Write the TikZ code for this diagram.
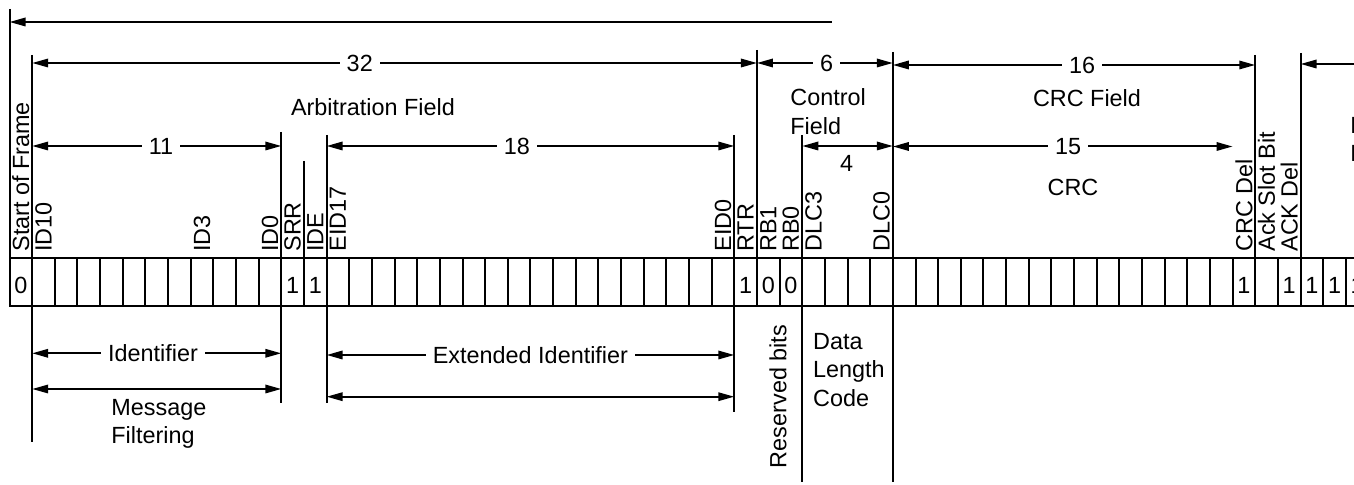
\documentclass[tikz,border=0pt]{standalone}
\usepackage{fontspec}
\setmainfont{Liberation Sans}
\usetikzlibrary{arrows.meta, positioning}
\newcommand{\canfont}{\fontsize{11.7}{14.2}\selectfont}
\tikzset{
  >={Triangle[length=8pt, width=4.2pt]},
  % one bit of the frame
  bitcell/.style={rectangle, draw, line width=1pt, minimum width=11.325pt, minimum height=24pt,
                  inner sep=0pt, outer sep=0pt, anchor=north west},
  bitval/.style={inner sep=0pt},
  bitlbl/.style={rotate=90, anchor=west, inner sep=0pt},
  bnd/.style={line width=1pt},
  dimln/.style={<->, line width=1pt},
  dimlbl/.style={fill=white, inner xsep=3.5pt, inner ysep=1pt},
  txt/.style={align=left, inner sep=0pt}
}

\begin{document}
\begin{tikzpicture}[x=0.5pt, y=-0.5pt, every node/.style={font=\canfont}]
    \useasboundingbox (0,0) rectangle (1354,485);
    \clip (0,0) rectangle (1354,485);

    % bit cells
    \foreach \i in {0,...,59}
      \node[bitcell] (c\i) at ({9.5+22.65*\i},258) {};

    % fixed bit values
    \foreach \i/\val in {0/0, 12/1, 13/1, 32/1, 33/0, 34/0, 54/1, 56/1, 57/1, 58/1, 59/1}
      \node[bitval] at ([yshift=-1.5pt]c\i.center) {\val};

    % bit names
    \foreach \i/\lbl in {0/Start of Frame, 1/ID10, 8/ID3, 11/ID0, 12/SRR, 13/IDE, 14/EID17,
                         31/EID0, 32/RTR, 33/RB1, 34/RB0, 35/DLC3, 38/DLC0,
                         54/CRC Del, 55/Ack Slot Bit, 56/ACK Del}
      \node[bitlbl] at ([yshift=3pt]c\i.north) {\lbl};

    % field boundaries
    \foreach \n/\ya/\yb in {0/9/306, 1/55/442, 12/132/403, 13/161/306, 14/135/403, 32/135/412,
                            33/50/306, 35/135/482, 39/52/482, 55/55/306, 57/53/306}
      \draw[bnd] (c\n.north west |- 0,\ya) -- (c\n.north west |- 0,\yb);

    % whole frame
    \coordinate (topend) at (832,22);
    \draw[bnd, <-] (c0.north west |- topend) -- (topend);

    % arbitration field
    \draw[dimln] (c1.north west |- 0,63) -- node[dimlbl, pos=0.452] {32} (c33.north west |- 0,63);
    \node (arb) at (373,107) {Arbitration Field};
    \draw[dimln] (c1.north west |- 0,146) -- node[dimlbl, pos=0.517] {11} (c12.north west |- 0,146);
    \draw[dimln] (c14.north west |- 0,146) -- node[dimlbl, pos=0.467] {18} (c32.north west |- 0,146);

    % control field
    \draw[dimln] (c33.north west |- 0,63) -- node[dimlbl, pos=0.513] {6} (c39.north west |- 0,63);
    \node[txt, anchor=west] (ctl) at (790,111.5) {Control\\Field};
    \draw[dimln] (c35.north west |- 0,146) -- node[pos=0.49, yshift=-8.5pt] {4} (c39.north west |- 0,146);

    % crc field
    \draw[dimln] (c39.north west |- 0,65) -- node[dimlbl, pos=0.522] {16} (c55.north west |- 0,65);
    \node (crcf) at (1087,98) {CRC Field};
    \draw[dimln] (c39.north west |- 0,146.5) -- node[dimlbl, pos=0.516] {15} (c54.north west |- 0,146.5);
    \node (crc) at (1073,187) {CRC};

    % end of frame
    \coordinate (eofend) at (1370,64);
    \draw[bnd, <-] (c57.north west |- eofend) -- (eofend);
    \node[txt, anchor=west] (eof) at (1350,139) {End of\\Frame};

    % below the bits
    \draw[dimln] (c1.north west |- 0,353.3) -- node[dimlbl, pos=0.485] {Identifier} (c12.north west |- 0,353.3);
    \draw[dimln] (c1.north west |- 0,389) -- (c12.north west |- 0,389);
    \node[txt, anchor=west] (msgf) at (111,424) {Message\\Filtering};
    \draw[dimln] (c14.north west |- 0,355) -- node[dimlbl, pos=0.5] {Extended Identifier} (c32.north west |- 0,355);
    \draw[dimln] (c14.north west |- 0,396.7) -- (c32.north west |- 0,396.7);
    \node[rotate=90] (resv) at (778,396.5) {Reserved bits};
    \node[txt, anchor=west] (dlcode) at (812.7,370) {Data\\Length\\Code};
\end{tikzpicture}
\end{document}
